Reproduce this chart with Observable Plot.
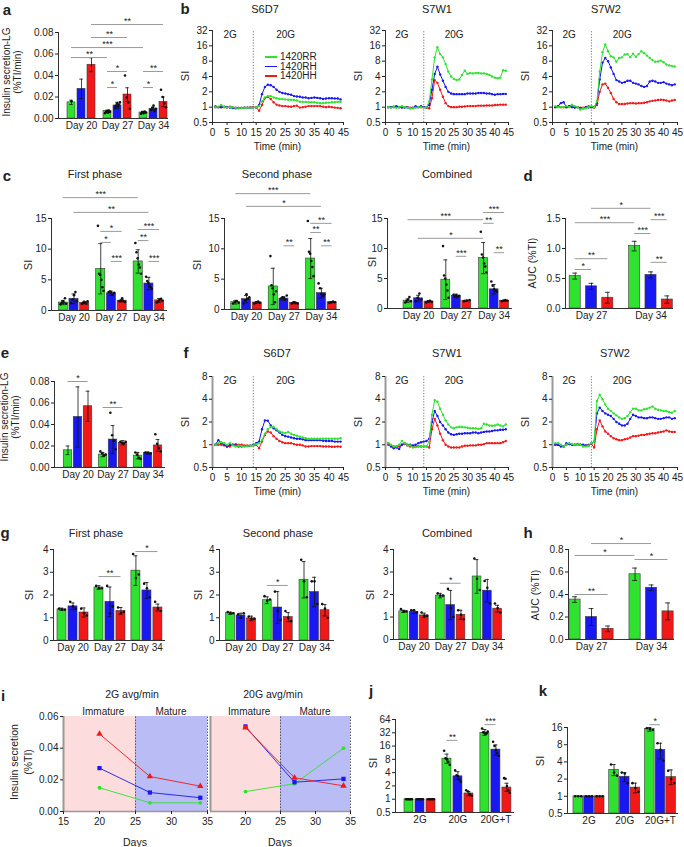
<!DOCTYPE html>
<html><head><meta charset="utf-8">
<script src="https://cdn.jsdelivr.net/npm/d3@7"></script>
<script src="https://cdn.jsdelivr.net/npm/@observablehq/plot@0.6"></script>
<style>
body{margin:0;background:#fff;}
#root{position:relative;width:684px;height:847px;overflow:hidden;font-family:"Liberation Sans",Arial,Helvetica,sans-serif;color:#222;background:#fff;}
.t{position:absolute;white-space:nowrap;font-size:10px;line-height:1;transform:translate(-50%,-50%);}
.t.r{transform:translate(-50%,-50%) rotate(-90deg);}
.t.s{transform:translate(0,-50%);}
.lab{font-weight:bold;font-size:15px;}
svg{overflow:visible}
</style></head><body><div id="root"></div><script>
// ---------------- DATA ----------------
const seriesNames = ["1420RR","1420RH","1420HH"];
const days3 = ["Day 20","Day 27","Day 34"];
const days2 = ["Day 27","Day 34"];
const conds = ["2G","20G","20G+T"];

// a: insulin secretion LG  [series][group]
const aMean = [[0.015,0.0068,0.0056],[0.0276,0.0121,0.009],[0.05,0.0223,0.0155]];
const aErr  = [[0.002,0.001,0.001],[0.009,0.003,0.0015],[0.0065,0.0063,0.0045]];
const aDots = [
  [[0.016],[0.005,0.006,0.007,0.0055,0.0075,0.006],[0.0045,0.006,0.005,0.0065,0.0055]],
  [[],[0.010,0.012,0.014,0.011,0.013,0.015],[0.008,0.010,0.012,0.007,0.009]],
  [[],[0.040,0.0195,0.015,0.009],[0.0267,0.02,0.014,0.0105]]];
const aSig = [[0,2,2,2,0.0874,"**"],[0,2,1,2,0.0753,"**"],[0,0,2,0,0.066,"***"],[0,0,1,0,0.0567,"**"],
  [1,0,1,2,0.0437,"*"],[1,0,1,1,0.0288,"*"],[2,0,2,2,0.0437,"**"],[2,0,2,1,0.0288,"*"]];
const aTicks = [0,0.02,0.04,0.06,0.08];

// c: First phase / Second phase / Combined (SI)
const cMean1 = [[1.3,6.8,8.0],[1.9,2.8,4.4],[1.25,1.6,1.65]];
const cErr1  = [[0.35,4.1,1.9],[0.8,0.35,1.0],[0.15,0.2,0.3]];
const cDots1 = [
  [[1.0,1.2,1.5,1.3,2.0,1.1],[13.8,6.0,5.8,5.0,3.8,3.2],[11,9.5,8.5,7.5,7.0,6.0]],
  [[1.2,1.8,2.5,3.0,1.5],[3.0,3.1,2.8,2.6,2.9],[5.5,4.8,4.5,4.0,3.8,3.5]],
  [[1.1,1.2,1.4,1.3,1.1,1.5],[1.5,1.6,2.0,1.5,1.4],[1.3,1.5,1.8,1.9,1.6]]];
const cSig1 = [[0,0,2,0,18.4,"***"],[0,1,2,1,16,"**"],[1,0,1,2,12.9,"*"],[1,0,1,1,11.1,"*"],[1,1,1,2,8.0,"***"],
  [2,0,2,2,13.2,"***"],[2,0,2,1,11.4,"**"],[2,1,2,2,8.0,"***"]];
const cMean2 = [[1.2,3.8,8.4],[1.7,1.8,2.7],[1.15,1.1,1.2]];
const cErr2  = [[0.3,3.0,3.3],[0.6,0.3,0.8],[0.12,0.15,0.1]];
const cDots2 = [
  [[1.0,1.2,1.4,1.1],[8.8,4.0,3.5,2.5,1.2,3.0],[14.6,9.5,9.2,8.0,7.0,5.5]],
  [[1.0,1.5,2.5,1.8,2.0],[1.8,2.0,1.9,1.6,2.3],[4.3,3.5,2.6,2.2,2.5]],
  [[1.0,1.2,1.3,1.1],[1.0,1.2,1.1,1.0],[1.1,1.2,1.3,1.2]]];
const cSig2 = [[0,0,2,0,19.1,"***"],[0,1,2,1,17,"*"],[1,1,1,2,10.5,"**"],[2,0,2,2,14.2,"**"],[2,0,2,1,12.7,"**"],[2,1,2,2,10.5,"**"]];
const cMean3 = [[1.3,4.8,8.4],[1.7,2.1,3.2],[1.15,1.3,1.3]];
const cErr3  = [[0.3,3.3,2.6],[0.5,0.3,0.8],[0.12,0.1,0.1]];
const cDots3 = [
  [[1.0,1.3,1.5,1.9,1.2],[10.4,5.5,5.0,4.0,3.0,1.8],[12.8,9.0,8.5,7.5,7.0,6.0]],
  [[1.2,1.8,2.5,1.5],[2.3,2.0,2.2,1.9,2.1],[4.5,3.8,3.2,3.0,2.8]],
  [[1.0,1.2,1.3,1.1],[1.2,1.3,1.4],[1.2,1.3,1.4,1.3]]];
const cSig3 = [[0,0,2,0,14.8,"***"],[0,1,2,0,11.7,"*"],[1,1,1,2,8.7,"***"],[2,0,2,2,16,"***"],[2,0,2,1,14.2,"**"],[2,1,2,2,9.3,"**"]];
const cTicks = [0,5,10,15];

// d: AUC
const dMean = [[0.54,1.04],[0.37,0.56],[0.18,0.15]];
const dErr  = [[0.05,0.08],[0.05,0.05],[0.09,0.06]];
const dSig = [[0,1,1,1,1.67,"*"],[0,0,1,0,1.43,"***"],[1,1,1,2,1.48,"***"],[1,0,1,1,1.25,"***"],[1,1,1,2,0.77,"**"],[0,0,0,2,0.83,"**"],[0,0,0,1,0.65,"*"]];
const dTicks = [0,0.5,1.0,1.5];

// e
const eMean = [[0.016,0.012,0.011],[0.047,0.026,0.0135],[0.057,0.023,0.0205]];
const eErr  = [[0.004,0.002,0.003],[0.028,0.013,0.001],[0.014,0.002,0.0055]];
const eDots = [
  [[],[0.015,0.013,0.011,0.012],[0.014,0.012,0.009,0.008]],
  [[],[0.051,0.03,0.025,0.017],[0.014,0.0135,0.013]],
  [[],[0.024,0.023,0.022,0.024],[0.031,0.022,0.018,0.015]]];
const eSig = [[0,0,0,2,0.08,"*"],[1,0,1,2,0.0558,"**"]];

// g
const gMean1 = [[1.37,2.33,3.07],[1.5,1.7,2.2],[1.23,1.3,1.45]];
const gErr1  = [[0.05,0.08,0.65],[0.15,0.65,0.35],[0.2,0.15,0.15]];
const gDots1 = [[[1.4,1.35,1.35],[2.4,2.3,2.3],[3.8,2.75,2.9]],[[1.7,1.5,1.4],[2.4,1.2,1.5],[2.5,2.3,1.9]],[[1.4,1.2,1.1],[1.45,1.2,1.25],[1.7,1.4,1.3]]];
const gSig1 = [[1,0,1,2,2.81,"**"],[2,0,2,2,3.91,"*"]];
const gMean2 = [[1.2,1.77,2.67],[1.1,1.45,2.13],[0.97,1.03,1.33]];
const gErr2  = [[0.05,0.15,0.8],[0.1,0.7,0.65],[0.1,0.2,0.25]];
const gDots2 = [[[1.25,1.2,1.2],[1.95,1.75,1.8],[3.55,2.6,1.9]],[[1.15,1.0,1.2],[2.15,1.3,0.9],[2.6,2.6,1.6]],[[1.05,0.95,0.95],[1.3,1.0,0.85],[1.6,1.4,1.0]]];
const gSig2 = [[1,0,1,2,2.42,"*"]];
const gMean3 = [[1.25,1.95,2.8],[1.23,1.53,2.17],[1.07,1.1,1.37]];
const gErr3  = [[0.05,0.1,0.75],[0.07,0.65,0.5],[0.1,0.2,0.15]];
const gDots3 = [[[1.35,1.25,1.25],[2.05,1.95,1.95],[3.6,2.7,2.2]],[[1.3,1.3,1.2],[2.25,1.4,1.0],[2.6,2.3,1.6]],[[1.2,1.05,1.05],[1.3,1.1,0.9],[1.6,1.4,1.2]]];
const gSig3 = [[1,0,1,2,2.5,"*"]];
const gTicks = [0,1,2,3,4];

// h
const hMean = [[0.355,0.58],[0.2,0.46],[0.095,0.25]];
const hErr  = [[0.025,0.055],[0.075,0.025],[0.025,0.075]];
const hSig = [[0,1,1,1,0.853,"*"],[0,0,1,0,0.747,"*"],[1,0,1,2,0.711,"*"],[0,0,0,2,0.4,"**"]];
const hTicks = [0,0.2,0.4,0.6,0.8];

// j, k (log SI)
const jMean = [[1,8.3,32],[1,3.3,13.3],[1,1.35,1.84]];
const jLo = [[1,6.5,28],[1,2.8,10],[1,1.2,1.5]];
const jHi = [[1,10.5,38],[1,4.2,17],[1,1.5,2.3]];
const jDots = [[[1,1,1,1,1,1],[12.5,8.5,8.0,7.0,6.0],[40,33,32,30,31,34]],[[1,1,1,1,1],[4.5,3.5,3.3,2.8,2.5],[20,16,13,11,9.5]],[[1,1,1,1,1],[1.6,1.5,1.3,1.2],[3.0,2.9,2.0,1.6,1.4]]];
const jSig = [[1,0,1,1,21.6,"**"],[2,0,2,1,49,"***"]];
const jTicks = [0.5,1,2,4,8,16,32,64];
const kMean = [[1,2.9,15],[1,2.2,6.5],[1,1.42,2.17]];
const kLo = [[1,2.3,13.8],[1,1.8,4.5],[1,1.15,1.6]];
const kHi = [[1,3.6,16],[1,2.6,8.5],[1,1.7,2.9]];
const kDots = [[[1,1,1],[3.6,2.6,2.3],[15.5,15,14.5]],[[1,1,1],[2.6,2.5,1.7],[8.5,6.5,4.2]],[[1,1,1],[1.7,1.4,1.2],[2.8,2.0,1.7]]];
const kSig = [[2,0,2,1,17.9,"*"]];
const kTicks = [0.5,1,2,4,8,16];

// b, f: time courses (SI per minute)
const minutes = [1,2,3,4,5,6,7,8,9,10,11,12,13,14,15,16,17,18,19,20,21,22,23,24,25,26,27,28,29,30,31,32,33,34,35,36,37,38,39,40,41,42,43,44];
const timeTicks = [0,5,10,15,20,25,30,35,40,45];
const stimTime = 14;
const bS6D7 = [
 [1.0,1.02,1.1,1.0,0.98,1.0,1.0,0.97,0.95,0.96,0.98,0.97,0.98,0.98,1.0,1.05,1.3,1.55,1.65,1.65,1.55,1.5,1.45,1.45,1.42,1.4,1.4,1.38,1.35,1.28,1.27,1.27,1.25,1.25,1.25,1.22,1.2,1.2,1.22,1.23,1.25,1.25,1.27,1.28],
 [1.0,1.0,1.0,1.02,1.0,0.98,0.96,0.95,0.97,0.97,0.98,0.98,0.97,0.98,1.0,1.1,1.8,2.5,2.75,2.7,2.5,2.2,2.0,1.9,1.85,1.8,1.75,1.65,1.62,1.6,1.55,1.55,1.5,1.52,1.55,1.52,1.5,1.45,1.48,1.5,1.5,1.48,1.48,1.42],
 [1.05,1.0,1.0,1.0,0.98,1.02,1.0,0.98,0.96,0.97,0.98,0.98,1.0,1.0,0.98,0.85,1.1,1.5,1.6,1.45,1.25,1.12,1.08,1.05,1.05,1.03,1.02,1.05,1.07,0.98,1.0,1.02,1.05,1.05,1.05,1.05,1.05,1.02,1.0,1.02,1.0,0.98,0.97,0.95]];
const bS7W1 = [
 [1.0,0.98,1.02,0.97,1.0,1.05,1.0,0.98,0.96,0.95,0.98,1.0,1.0,0.98,1.0,1.3,3.5,9.5,15,11,9.5,7,5,4,3.6,3.4,3.5,4.3,5.2,4.5,4.7,4.6,4.7,4.7,4.6,4.6,4.5,4.3,4.0,3.8,3.7,3.8,5.3,5.2],
 [1.0,1.0,1.02,1.05,1.0,0.98,0.98,1.0,0.95,0.97,1.05,1.0,1.05,1.0,1.0,1.1,2.2,4.5,6.2,4.4,3.3,2.5,2.0,1.85,1.8,1.8,1.8,1.8,1.8,1.85,1.85,1.85,1.85,1.9,1.9,1.9,1.85,1.85,1.8,1.75,1.8,1.8,1.82,1.82],
 [1.0,1.0,1.0,1.0,1.0,1.02,1.0,1.0,0.98,0.98,1.0,1.0,1.0,1.0,0.97,0.95,1.5,3.4,3.0,2.2,1.6,1.2,1.05,1.0,1.0,1.0,1.02,1.02,1.03,1.05,1.05,1.05,1.05,1.07,1.07,1.07,1.08,1.08,1.08,1.1,1.1,1.12,1.12,1.12]];
const bS7W2 = [
 [1.05,1.0,1.0,1.0,1.05,1.0,1.1,1.05,1.0,0.9,0.95,0.95,1.0,1.05,1.0,1.3,5,12,17,12.5,10,9.5,7.8,9.2,9.5,10.8,11,9.6,11.2,9.8,11,12.5,11.5,10.3,9.2,8.4,7.8,7.9,8.2,7.6,6.9,6.6,6.4,6.3],
 [1.0,1.05,1.2,1.25,1.0,1.05,1.0,0.98,1.0,0.95,0.95,1.0,0.98,1.0,1.0,1.2,3.5,7.5,9.2,8.0,6.0,4.5,3.4,3.2,3.0,3.1,3.3,3.3,3.0,2.9,2.8,2.6,2.5,2.6,3.2,3.3,3.2,3.0,3.0,3.1,2.9,2.8,2.7,2.8],
 [1.0,1.05,1.0,1.0,1.0,1.05,1.1,1.0,1.0,0.98,0.98,1.0,1.05,1.0,0.98,1.1,2.0,2.8,2.9,2.4,1.9,1.45,1.25,1.15,1.15,1.15,1.18,1.2,1.2,1.18,1.2,1.2,1.22,1.25,1.3,1.33,1.35,1.38,1.4,1.38,1.35,1.3,1.35,1.38]];
const fS6D7 = [
 [1.0,1.05,1.08,1.05,1.0,1.05,0.98,0.95,0.97,0.96,0.95,0.96,0.97,0.98,1.02,1.05,1.15,1.4,1.6,1.72,1.72,1.6,1.5,1.45,1.42,1.48,1.4,1.35,1.32,1.28,1.25,1.22,1.2,1.2,1.2,1.2,1.2,1.2,1.2,1.2,1.2,1.2,1.2,1.22],
 [1.0,1.15,1.05,1.0,0.95,1.0,1.0,0.98,0.95,0.95,0.96,0.96,0.97,1.0,1.05,1.1,1.6,2.1,2.08,1.8,1.65,1.55,1.45,1.35,1.3,1.28,1.25,1.22,1.2,1.2,1.18,1.15,1.15,1.15,1.15,1.15,1.15,1.13,1.12,1.12,1.12,1.1,1.1,1.1],
 [1.0,1.0,1.0,0.98,0.95,0.95,1.0,1.02,1.0,1.0,0.98,0.98,0.97,0.98,1.0,0.9,1.1,1.35,1.5,1.45,1.3,1.2,1.12,1.08,1.05,1.05,1.05,1.02,1.0,1.0,0.98,0.95,0.95,0.96,0.96,0.96,0.96,0.95,0.95,0.95,0.94,0.94,0.95,0.94]];
const fS7W1 = [
 [1.05,1.0,0.95,0.95,1.0,1.12,1.05,1.0,0.98,0.92,0.93,0.94,0.95,0.95,0.95,1.1,2.5,3.9,3.7,3.0,2.5,2.1,1.85,1.7,1.65,1.7,1.72,1.72,1.7,1.68,1.65,1.65,1.65,1.62,1.65,1.9,1.85,1.8,1.78,1.8,1.85,1.8,1.75,1.85],
 [1.05,0.95,0.9,0.92,0.88,1.0,1.05,1.0,1.0,0.98,1.0,1.05,1.08,1.1,1.12,1.2,2.0,2.8,2.4,2.0,1.8,1.6,1.45,1.38,1.35,1.38,1.4,1.4,1.42,1.42,1.42,1.45,1.45,1.42,1.45,1.48,1.5,1.5,1.52,1.55,1.55,1.58,1.58,1.6],
 [1.0,0.98,0.95,0.95,0.95,1.0,1.02,0.98,0.95,0.95,0.95,0.96,0.95,0.95,0.95,0.92,1.6,2.2,1.8,1.4,1.15,1.0,0.95,0.92,0.92,0.92,0.92,0.95,0.97,0.97,0.98,0.98,0.98,1.0,1.0,1.02,1.05,1.05,1.05,1.05,1.05,1.05,1.08,1.12]];
const fS7W2 = [
 [1.05,1.05,1.0,0.95,1.0,1.05,1.02,1.0,1.0,1.0,0.95,0.95,0.97,1.05,1.1,3.8,4.6,4.0,3.4,3.0,2.8,2.6,2.45,2.3,2.2,2.25,2.4,2.7,3.0,3.0,2.85,2.85,2.95,3.0,3.1,3.2,3.0,2.9,2.85,2.8,2.8,2.7,2.65,2.8],
 [1.0,1.0,0.95,0.95,1.05,1.02,1.0,1.0,1.0,1.0,1.0,0.98,0.98,1.05,1.1,2.6,3.1,2.8,2.6,2.5,2.4,2.2,2.0,1.9,1.8,1.8,1.9,2.2,2.5,2.4,2.3,2.3,2.25,2.25,2.3,2.3,2.25,2.2,2.2,2.25,2.3,2.3,2.2,2.25],
 [1.0,1.0,0.98,0.95,1.0,1.02,1.0,1.0,1.02,1.0,0.98,0.98,1.0,1.02,0.92,1.6,2.1,1.75,1.5,1.4,1.3,1.22,1.18,1.15,1.15,1.18,1.2,1.25,1.3,1.3,1.32,1.35,1.35,1.38,1.4,1.42,1.42,1.45,1.48,1.5,1.55,1.5,1.48,1.48]];
const bTicks = [0.5,1,2,4,8,16,32];
const fTicks = [0.5,1,2,4,8];

// i: average secretion vs day
const iDays = [20,27,34];
const i2G  = [[0.015,0.0055,0.0055],[0.0274,0.012,0.0087],[0.049,0.0221,0.016]];
const i20G = [[0.0126,0.0175,0.04],[0.0537,0.0185,0.0206],[0.053,0.0213,0.0162]];
const phaseNames = ["Immature","Mature"];
const phaseBounds = [15,25,35];
const iTicks = [0,0.02,0.04,0.06];

// ---------------- STYLE ----------------
const seriesColors = ["#2fe22f","#1818f2","#f21818"];
const phaseColors = ["#fcdcdc","#babcf5"];
const iSymbols = ["circle","square","triangle"];
const FONT = '"Liberation Sans", Arial, Helvetica, sans-serif';
const STYLE = {fontFamily: FONT, fontSize: "10px", color: "#222", background: "transparent", overflow: "visible"};
const root = document.getElementById("root");

function place(node, x, y){ node.style.position="absolute"; node.style.left=x+"px"; node.style.top=y+"px"; root.appendChild(node); }
function txt(s, x, y, o={}){
  const d=document.createElement("div");
  d.className="t"+(o.rot?" r":"")+(o.start?" s":"")+(o.cls?" "+o.cls:"");
  d.textContent=s; d.style.left=x+"px"; d.style.top=y+"px";
  if(o.size) d.style.fontSize=o.size+"px";
  root.appendChild(d); return d;
}

function barPanel(c){
  const ml=36, mr=6, mt=44, mb=20;
  const W=c.R-c.L, H=c.B-c.T;
  const nG=c.groups.length;
  const dmin = 1 - (c.c0 - c.L)/c.step, dmax = dmin + W/c.step;
  const pos=(g,s)=>g*c.gap+s;
  const base=c.yDomain[0];
  const bars=[], errs=[], dots=[];
  for(let s=0;s<3;s++) for(let g=0;g<nG;g++){
    const p=pos(g,s), m=c.mean[s][g];
    bars.push({x1:p-c.barW/2, x2:p+c.barW/2, y:m, fill:seriesColors[s]});
    const lo = c.lo ? c.lo[s][g] : m - c.err[s][g];
    const hi = c.hi ? c.hi[s][g] : m + c.err[s][g];
    if(hi>lo) errs.push({x:p, lo, hi});
    const ds = c.dots ? c.dots[s][g] : [];
    ds.forEach((v,i)=>dots.push({x: p + (ds.length>1 ? (i/(ds.length-1)-0.5)*c.barW*0.62 : 0), y:v}));
  }
  const sig=(c.sig||[]).map(([g1,s1,g2,s2,y,label])=>({x1:pos(g1,s1), x2:pos(g2,s2), y, label}));
  const centers=c.groups.map((_,g)=>pos(g,1));
  const fmt=new Map(centers.map((x,i)=>[x,c.groups[i]]));
  const cap=c.barW*0.22;
  const yOpt = c.log ? {type:"log", base:2, domain:c.yDomain} : {domain:c.yDomain};
  const plot=Plot.plot({
    width:W+ml+mr, height:H+mt+mb, marginLeft:ml, marginRight:mr, marginTop:mt, marginBottom:mb,
    x:{domain:[dmin,dmax]}, y:yOpt, color:{type:"identity"}, style:STYLE,
    marks:[
      Plot.rectY(bars,{x1:"x1",x2:"x2",y1:base,y2:"y",fill:"fill",stroke:"#3a3a3a",strokeWidth:0.6}),
      Plot.ruleX(errs,{x:"x",y1:"lo",y2:"hi",stroke:"#111",strokeWidth:0.8}),
      Plot.ruleY(errs,{y:"hi",x1:d=>d.x-cap,x2:d=>d.x+cap,stroke:"#111",strokeWidth:0.8}),
      Plot.ruleY(errs,{y:"lo",x1:d=>d.x-cap,x2:d=>d.x+cap,stroke:"#111",strokeWidth:0.8}),
      Plot.dot(dots,{x:"x",y:"y",r:1.3,fill:"#111"}),
      Plot.ruleY(sig,{y:"y",x1:"x1",x2:"x2",stroke:"#9a9a9a",strokeWidth:1}),
      Plot.text(sig,{x:d=>(d.x1+d.x2)/2,y:"y",text:"label",dy:-3.5,fontSize:9,fill:"#222"}),
      Plot.ruleX([dmin],{y1:c.yDomain[0],y2:c.yDomain[1],stroke:"#333"}),
      Plot.ruleY([base],{x1:dmin,x2:dmax,stroke:"#333"}),
      Plot.axisY({ticks:c.yTicks,tickFormat:c.yFmt,tickSize:3,tickPadding:2,label:null}),
      Plot.axisX({ticks:centers,tickFormat:d=>fmt.get(d),tickSize:0,tickPadding:3,label:null})
    ]
  });
  place(plot, c.L-ml, c.T-mt);
}

function linePanel(c){
  const ml=34, mr=8, mt=8, mb=30;
  const W=c.R-c.L, H=c.B-c.T;
  const marks=[Plot.ruleX([stimTime],{y1:c.yDomain[0],y2:c.yDomain[1],stroke:"#777",strokeDasharray:"1.2,1.6"})];
  [2,1,0].forEach(s=>{
    const pts=c.series[s].map((v,i)=>({t:minutes[i],v,col:seriesColors[s]}));
    marks.push(Plot.line(pts,{x:"t",y:"v",stroke:"col",strokeWidth:1}));
    marks.push(Plot.dot(pts,{x:"t",y:"v",r:1.2,fill:"col"}));
  });
  marks.push(
    Plot.ruleX([0],{y1:c.yDomain[0],y2:c.yDomain[1],stroke:c.axisColor||"#333",strokeWidth:c.axisW||1}),
    Plot.ruleY([c.yDomain[0]],{x1:0,x2:45,stroke:"#333"}),
    Plot.axisY({ticks:c.yTicks,tickFormat:d=>String(d),tickSize:3,tickPadding:2,label:null}),
    Plot.axisX({ticks:timeTicks,tickSize:3,tickPadding:3,label:null})
  );
  const plot=Plot.plot({
    width:W+ml+mr, height:H+mt+mb, marginLeft:ml, marginRight:mr, marginTop:mt, marginBottom:mb,
    x:{domain:[0,45]}, y:{type:"log",base:2,domain:c.yDomain}, color:{type:"identity"}, style:STYLE, marks
  });
  place(plot, c.L-ml, c.T-mt);
  txt("2G", c.L + W*6.2/45, c.T+5);
  txt("20G", c.L + W*25.3/45, c.T+5);
  txt(c.title, c.tx, c.ty, {size:11});
  txt("SI", c.L-27, (c.T+c.B)/2, {rot:true, size:11});
  txt("Time (min)", (c.L+c.R)/2, c.B+25);
}

function iPanel(c){
  const ml=34, mr=6, mt=4, mb=26;
  const W=c.R-c.L, H=c.B-c.T;
  const yd=[0,0.06];
  const ph=phaseNames.map((n,i)=>({name:n,start:phaseBounds[i],end:phaseBounds[i+1],fill:phaseColors[i]}));
  const marks=[
    Plot.rect(ph,{x1:"start",x2:"end",y1:yd[0],y2:yd[1],fill:"fill"}),
    Plot.ruleX(ph,{x:"end",y1:yd[0],y2:yd[1],stroke:"#555",strokeDasharray:"1.5,1.5"})
  ];
  [0,1,2].forEach(s=>{
    const pts=iDays.map((d,i)=>({day:d,v:c.values[s][i],col:seriesColors[s]}));
    marks.push(Plot.line(pts,{x:"day",y:"v",stroke:"col",strokeWidth:0.9}));
    marks.push(Plot.dot(pts,{x:"day",y:"v",fill:"col",symbol:iSymbols[s],r:s===0?1.9:2.4}));
  });
  marks.push(
    Plot.ruleX([phaseBounds[0]],{y1:yd[0],y2:yd[1],stroke:"#999",strokeWidth:2}),
    Plot.ruleY([yd[0]],{x1:phaseBounds[0],x2:phaseBounds[2],stroke:"#999",strokeWidth:1.5}),
    Plot.axisX({ticks:c.xTicks,tickSize:3,tickPadding:3,label:null})
  );
  if(c.showY) marks.push(Plot.axisY({ticks:iTicks,tickFormat:d3.format(".2f"),tickSize:3,tickPadding:2,label:null}));
  const plot=Plot.plot({
    width:W+ml+mr, height:H+mt+mb, marginLeft:ml, marginRight:mr, marginTop:mt, marginBottom:mb,
    x:{domain:[15,35]}, y: c.showY ? {domain:yd} : {domain:yd, axis:null}, color:{type:"identity"}, style:STYLE, marks
  });
  place(plot, c.L-ml, c.T-mt);
  txt(phaseNames[0], c.L + W*0.28, c.T-4);
  txt(phaseNames[1], c.L + W*0.75, c.T-4);
  txt("Days", (c.L+c.R)/2, 842, {size:10.5});
  txt(c.title, c.tx, 694, {size:10.5});
}

// ---------------- PANELS ----------------
barPanel({L:58,R:168,T:32,B:118,groups:days3,mean:aMean,err:aErr,dots:aDots,sig:aSig,yDomain:[0,0.08],yTicks:aTicks,yFmt:d3.format(".2f"),step:10,gap:3.6,c0:81,barW:0.8});
barPanel({L:51,R:167,T:218,B:310,groups:days3,mean:cMean1,err:cErr1,dots:cDots1,sig:cSig1,yDomain:[0,15],yTicks:cTicks,yFmt:d=>String(d),step:10.7,gap:3.5,c0:73.5,barW:0.85});
barPanel({L:224,R:340,T:218,B:309,groups:days3,mean:cMean2,err:cErr2,dots:cDots2,sig:cSig2,yDomain:[0,15],yTicks:cTicks,yFmt:d=>String(d),step:10.7,gap:3.5,c0:246,barW:0.85});
barPanel({L:387,R:512,T:218,B:308,groups:days3,mean:cMean3,err:cErr3,dots:cDots3,sig:cSig3,yDomain:[0,15],yTicks:cTicks,yFmt:d=>String(d),step:10.5,gap:3.6,c0:418,barW:0.85});
barPanel({L:565,R:673,T:218,B:308,groups:days2,mean:dMean,err:dErr,sig:dSig,yDomain:[0,1.5],yTicks:dTicks,yFmt:d3.format(".1f"),step:16.3,gap:3.65,c0:591,barW:0.68});
barPanel({L:54,R:165,T:381,B:467,groups:days3,mean:eMean,err:eErr,dots:eDots,sig:eSig,yDomain:[0,0.08],yTicks:aTicks,yFmt:d3.format(".2f"),step:10,gap:3.5,c0:77.5,barW:0.85});
barPanel({L:53,R:165,T:549,B:640,groups:days3,mean:gMean1,err:gErr1,dots:gDots1,sig:gSig1,yDomain:[0,4],yTicks:gTicks,yFmt:d=>String(d),step:11,gap:3.36,c0:72.5,barW:0.82});
barPanel({L:219,R:334,T:549,B:640,groups:days3,mean:gMean2,err:gErr2,dots:gDots2,sig:gSig2,yDomain:[0,4],yTicks:gTicks,yFmt:d=>String(d),step:10.5,gap:3.5,c0:240.5,barW:0.85});
barPanel({L:393,R:505,T:549,B:639,groups:days3,mean:gMean3,err:gErr3,dots:gDots3,sig:gSig3,yDomain:[0,4],yTicks:gTicks,yFmt:d=>String(d),step:10.3,gap:3.56,c0:413.5,barW:0.85});
barPanel({L:568,R:674,T:549,B:639,groups:days2,mean:hMean,err:hErr,sig:hSig,yDomain:[0,0.8],yTicks:hTicks,yFmt:d3.format(".1f"),step:16.5,gap:3.64,c0:591,barW:0.68});
barPanel({L:395,R:514,T:719,B:812,groups:conds,mean:jMean,lo:jLo,hi:jHi,dots:jDots,sig:jSig,log:true,yDomain:[0.5,64],yTicks:jTicks,yFmt:d=>String(d),step:11,gap:3.45,c0:419.5,barW:0.82});
barPanel({L:567,R:678,T:727,B:813,groups:conds,mean:kMean,lo:kLo,hi:kHi,dots:kDots,sig:kSig,log:true,yDomain:[0.5,16],yTicks:kTicks,yFmt:d=>String(d),step:10.7,gap:3.34,c0:588.5,barW:0.9});

linePanel({L:212,R:343,T:30,B:122,series:bS6D7,yDomain:[0.5,32],yTicks:bTicks,title:"S6D7",tx:265,ty:9});
linePanel({L:385,R:508,T:30,B:122,series:bS7W1,yDomain:[0.5,32],yTicks:bTicks,title:"S7W1",tx:437,ty:9});
linePanel({L:552,R:677,T:30,B:122,series:bS7W2,yDomain:[0.5,32],yTicks:bTicks,title:"S7W2",tx:606,ty:9});
linePanel({L:212,R:343,T:376,B:467,series:fS6D7,yDomain:[0.5,8],yTicks:fTicks,title:"S6D7",tx:277,ty:353,axisColor:"#999",axisW:2});
linePanel({L:385,R:508,T:376,B:467,series:fS7W1,yDomain:[0.5,8],yTicks:fTicks,title:"S7W1",tx:447,ty:353,axisColor:"#999",axisW:2});
linePanel({L:552,R:677,T:376,B:467,series:fS7W2,yDomain:[0.5,8],yTicks:fTicks,title:"S7W2",tx:615,ty:353,axisColor:"#999",axisW:2});

iPanel({L:63,R:207,T:716,B:811,values:i2G,xTicks:[15,20,25,30,35],showY:true,title:"2G avg/min",tx:132});
iPanel({L:210,R:350,T:716,B:811,values:i20G,xTicks:[20,25,30,35],showY:false,title:"20G avg/min",tx:273});

// legend (panel b)
seriesNames.forEach((n,i)=>{
  const y=57+i*9.5;
  const ln=document.createElement("div");
  Object.assign(ln.style,{position:"absolute",left:"265px",top:(y-0.75)+"px",width:"12px",height:"1.5px",background:seriesColors[i]});
  root.appendChild(ln);
  txt(n,280,y,{start:true});
});

// panel letters
[["a",7,9],["b",185,8],["c",7,175],["d",528,175],["e",5,352],["f",186,352],["g",5,532],["h",528,532],["i",3,695],["j",371,690],["k",543,690]]
  .forEach(([s,x,y])=>txt(s,x,y,{cls:"lab"}));
// titles
[["First phase",95,174],["Second phase",277,174],["Combined",447,174],["First phase",96,533],["Second phase",278,533],["Combined",447,533]]
  .forEach(([s,x,y])=>txt(s,x,y,{size:11}));
// axis labels
txt("Insulin secretion-LG",7,72,{rot:true}); txt("(%TI/min)",18,72,{rot:true});
txt("Insulin secretion-LG",5,417,{rot:true}); txt("(%TI/min)",16,417,{rot:true});
txt("Insulin secretion",14,762,{rot:true,size:10.5}); txt("(%TI)",28,762,{rot:true,size:10.5});
[[28,265],[197,265],[372,262],[29,595],[198,595],[370,595],[373,763],[540,761]].forEach(([x,y])=>txt("SI",x,y,{rot:true,size:11}));
txt("AUC (%TI)",532,263,{rot:true,size:10.5}); txt("AUC (%TI)",535,595,{rot:true,size:10.5});
</script></body></html>
